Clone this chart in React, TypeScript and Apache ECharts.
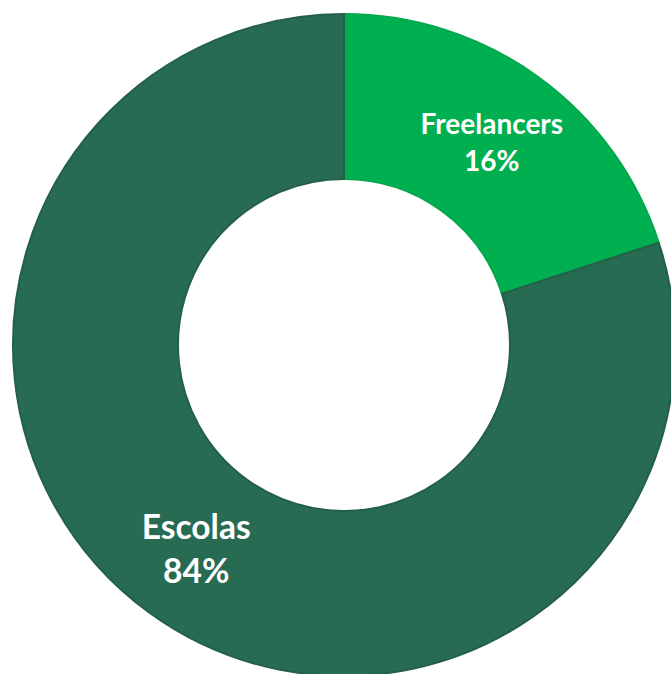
import React, { useEffect, useRef } from "react";
import * as echarts from "echarts";

const categories = ["Freelancers", "Escolas"];
const sliceValues = [20, 80];
// percentages printed on the labels
const labelPercents = [16, 84];
const sliceColors = ["#00B050", "#276B52"];
const borderColors = ["#03A84C", "#235F49"];
const labelSizes = [28, 33.5];
const labelLineHeights = [37, 44];

export default function App() {
  const ref = useRef<HTMLDivElement>(null);
  useEffect(() => {
    if (!ref.current) return;
    const chart = echarts.init(ref.current, null, { renderer: "svg" });
    chart.setOption({
      animation: false,
      backgroundColor: "#ffffff",
      series: [
        {
          type: "pie",
          center: [344, 345],
          radius: [166, 331],
          startAngle: 90,
          clockwise: true,
          avoidLabelOverlap: false,
          label: {
            show: true,
            position: "inside",
            color: "#ffffff",
            fontFamily: "Lato",
            fontWeight: "bold",
          },
          labelLine: { show: false },
          emphasis: { disabled: true },
          data: categories.map((name, i) => ({
            name,
            value: sliceValues[i],
            itemStyle: {
              color: sliceColors[i],
              borderColor: borderColors[i],
              borderWidth: 2,
            },
            label: {
              fontSize: labelSizes[i],
              lineHeight: labelLineHeights[i],
              formatter: `${name}\n${labelPercents[i]}%`,
            },
          })),
        },
      ],
    });
    return () => chart.dispose();
  }, []);
  return (
    <div
      ref={ref}
      style={{ position: "fixed", left: 0, top: 0, width: 671, height: 674 }}
    />
  );
}
